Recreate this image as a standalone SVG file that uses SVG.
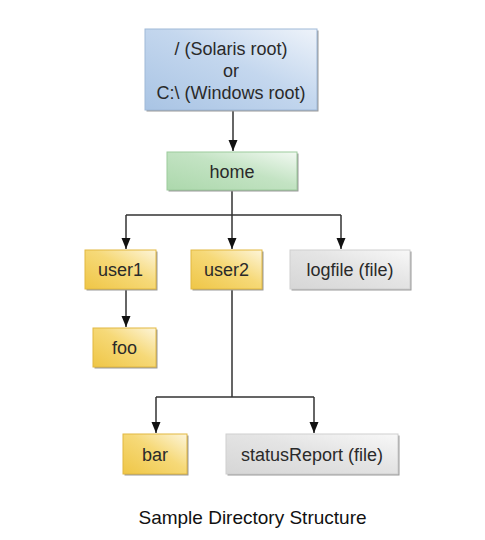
<svg xmlns="http://www.w3.org/2000/svg" width="485" height="540" viewBox="0 0 485 540">
<defs>
<linearGradient id="gBlue" x1="0" y1="1" x2="1" y2="0"><stop offset="0" stop-color="#a9c4e4"/><stop offset="0.55" stop-color="#c4d7ee"/><stop offset="1" stop-color="#eef3fa"/></linearGradient>
<linearGradient id="gGreen" x1="0" y1="1" x2="1" y2="0"><stop offset="0" stop-color="#acd8ac"/><stop offset="0.55" stop-color="#c3e3c3"/><stop offset="1" stop-color="#f2f9f2"/></linearGradient>
<linearGradient id="gYellow" x1="0" y1="1" x2="1" y2="0"><stop offset="0" stop-color="#efc646"/><stop offset="0.55" stop-color="#f6d978"/><stop offset="1" stop-color="#fdf5da"/></linearGradient>
<linearGradient id="gGray" x1="0" y1="1" x2="1" y2="0"><stop offset="0" stop-color="#d6d6d6"/><stop offset="0.55" stop-color="#e4e4e4"/><stop offset="1" stop-color="#f8f8f8"/></linearGradient>
<marker id="arr" markerUnits="userSpaceOnUse" markerWidth="12" markerHeight="12" refX="11" refY="6" orient="auto" viewBox="0 0 12 12">
<path d="M0,1.5 L11,6 L0,10.5 Z" fill="#111"/>
</marker>
</defs>
<style>
.sh{fill:#9a9a9a}
.lbl{font-family:"Liberation Sans",Arial,sans-serif;font-size:18px;fill:#2a2a2a;text-anchor:middle}
.cap{font-family:"Liberation Sans",Arial,sans-serif;font-size:19px;fill:#111;text-anchor:middle}
.con{fill:none;stroke:#333;stroke-width:1.5}
.blue{fill:url(#gBlue);stroke:#9fb9d8;stroke-width:1}
.green{fill:url(#gGreen);stroke:#9ccb9c;stroke-width:1}
.yellow{fill:url(#gYellow);stroke:#e2b840;stroke-width:1}
.gray{fill:url(#gGray);stroke:#cfcfcf;stroke-width:1}
</style>
<rect width="485" height="540" fill="#fff"/>
<g id="connectors">
<path class="con" d="M233,111 V151" marker-end="url(#arr)"/>
<path class="con" d="M232,190 V215 M126,215 H341"/>
<path class="con" d="M126,215 V249" marker-end="url(#arr)"/>
<path class="con" d="M232,215 V249" marker-end="url(#arr)"/>
<path class="con" d="M341,215 V249" marker-end="url(#arr)"/>
<path class="con" d="M126,290 V327" marker-end="url(#arr)"/>
<path class="con" d="M232,290 V397 M156,397 H314"/>
<path class="con" d="M156,397 V433" marker-end="url(#arr)"/>
<path class="con" d="M314,397 V433" marker-end="url(#arr)"/>
</g>
<g id="root">
<rect class="sh" x="146.5" y="30.5" width="172" height="81"/>
<rect class="blue" x="145" y="29" width="172" height="81"/>
<text class="lbl" x="231" y="55">/ (Solaris root)</text>
<text class="lbl" x="231" y="77">or</text>
<text class="lbl" x="231" y="99">C:\ (Windows root)</text>
</g>
<g id="home">
<rect class="sh" x="168.5" y="153.5" width="130" height="38"/>
<rect class="green" x="167" y="152" width="130" height="38"/>
<text class="lbl" x="232" y="177.5">home</text>
</g>
<g id="user1">
<rect class="sh" x="86.5" y="251.5" width="71" height="39"/>
<rect class="yellow" x="85" y="250" width="71" height="39"/>
<text class="lbl" x="120.5" y="276">user1</text>
</g>
<g id="user2">
<rect class="sh" x="192.5" y="251.5" width="71" height="39"/>
<rect class="yellow" x="191" y="250" width="71" height="39"/>
<text class="lbl" x="226.5" y="276">user2</text>
</g>
<g id="logfile">
<rect class="sh" x="291.5" y="251.5" width="120" height="39"/>
<rect class="gray" x="290" y="250" width="120" height="39"/>
<text class="lbl" x="350" y="276">logfile (file)</text>
</g>
<g id="foo">
<rect class="sh" x="94.5" y="329.5" width="63" height="39"/>
<rect class="yellow" x="93" y="328" width="63" height="39"/>
<text class="lbl" x="124.5" y="354">foo</text>
</g>
<g id="bar">
<rect class="sh" x="124.5" y="435.5" width="64" height="40"/>
<rect class="yellow" x="123" y="434" width="64" height="40"/>
<text class="lbl" x="155" y="460.5">bar</text>
</g>
<g id="statusReport">
<rect class="sh" x="227.5" y="435.5" width="172" height="40"/>
<rect class="gray" x="226" y="434" width="172" height="40"/>
<text class="lbl" x="312" y="460.5">statusReport (file)</text>
</g>
<text class="cap" x="252.5" y="524">Sample Directory Structure</text>
</svg>
